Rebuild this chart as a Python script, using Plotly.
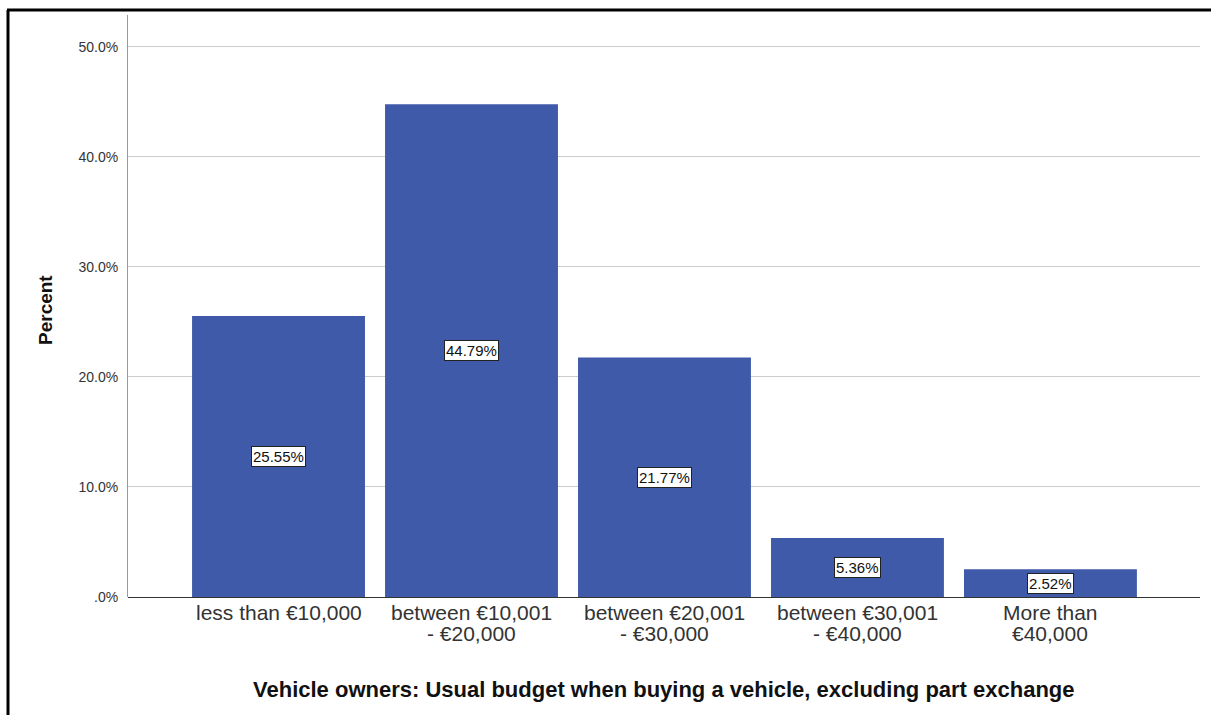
import plotly.graph_objects as go

# Budget bands (one list entry per printed line) and the share of vehicle owners in each
categories = [
    ["less than €10,000"],
    ["between €10,001", "- €20,000"],
    ["between €20,001", "- €30,000"],
    ["between €30,001", "- €40,000"],
    ["More than", "€40,000"],
]
percent = [25.55, 44.79, 21.77, 5.36, 2.52]
y_ticks = [0, 10, 20, 30, 40, 50]
y_tick_labels = [".0%", "10.0%", "20.0%", "30.0%", "40.0%", "50.0%"]

W, H = 1211, 715
M_L, M_R, M_T, M_B = 128, 11, 15, 118
PW, PH = W - M_L - M_R, H - M_T - M_B

FONT = "Arial, Liberation Sans, sans-serif"
BAR_COLOR = "#3F5AA8"


def py(pixel_y):
    """Page pixel row -> paper y coordinate."""
    return (M_T + PH - pixel_y) / PH


def px(pixel_x):
    """Page pixel column -> paper x coordinate."""
    return (pixel_x - M_L) / PW


fig = go.Figure()
fig.add_trace(go.Bar(
    x=list(range(len(categories))),
    y=percent,
    marker=dict(color=BAR_COLOR, line=dict(width=0)),
    hoverinfo="skip",
))

# Value labels in white boxes at the middle of each bar
for i, v in enumerate(percent):
    fig.add_annotation(
        x=i, y=v / 2, xref="x", yref="y",
        text=f"{v:.2f}%", showarrow=False,
        font=dict(family=FONT, size=15, color="#111111"),
        bgcolor="white", bordercolor="#222222", borderwidth=1, borderpad=1,
    )

# Category labels under the bars, one annotation per line for tight spacing
for i, lines in enumerate(categories):
    for j, line in enumerate(lines):
        fig.add_annotation(
            x=i, xref="x", y=py(612 + 21 * j), yref="paper",
            text=line, showarrow=False, yanchor="middle",
            font=dict(family=FONT, size=21, color="#333333"),
        )

# Axis titles
fig.add_annotation(
    x=px(664), y=py(690), xref="paper", yref="paper", showarrow=False,
    text="<b>Vehicle owners: Usual budget when buying a vehicle, excluding part exchange</b>",
    font=dict(family=FONT, size=22, color="#111111"),
    xanchor="center", yanchor="middle",
)
fig.add_annotation(
    x=px(45), y=py(310), xref="paper", yref="paper", showarrow=False,
    text="<b>Percent</b>", textangle=-90,
    font=dict(family=FONT, size=19, color="#111111"),
    xanchor="center", yanchor="middle",
)

# Frame lines on the left and top edges of the page
fig.add_shape(type="line", xref="paper", yref="paper",
              x0=px(8), x1=px(8), y0=py(10), y1=py(720),
              line=dict(color="black", width=3))
fig.add_shape(type="line", xref="paper", yref="paper",
              x0=px(7), x1=px(1215), y0=py(10), y1=py(10),
              line=dict(color="black", width=3))

fig.update_layout(
    width=W, height=H,
    margin=dict(l=M_L, r=M_R, t=M_T, b=M_B),
    paper_bgcolor="white", plot_bgcolor="white",
    showlegend=False,
    bargap=0.104,
    xaxis=dict(
        range=[-0.78, 4.775], showticklabels=False, showgrid=False,
        zeroline=False, showline=False, ticks="", fixedrange=True,
    ),
    yaxis=dict(
        range=[0, 52.9], tickvals=y_ticks, ticktext=y_tick_labels,
        showgrid=True, gridcolor="#CCCCCC", gridwidth=1,
        zeroline=True, zerolinecolor="#333333", zerolinewidth=1,
        showline=True, linecolor="#999999", linewidth=1,
        ticks="", ticklen=0, ticklabelstandoff=6,
        tickfont=dict(family=FONT, size=14, color="#333333"),
        fixedrange=True,
    ),
)

fig.write_html("out.html")
